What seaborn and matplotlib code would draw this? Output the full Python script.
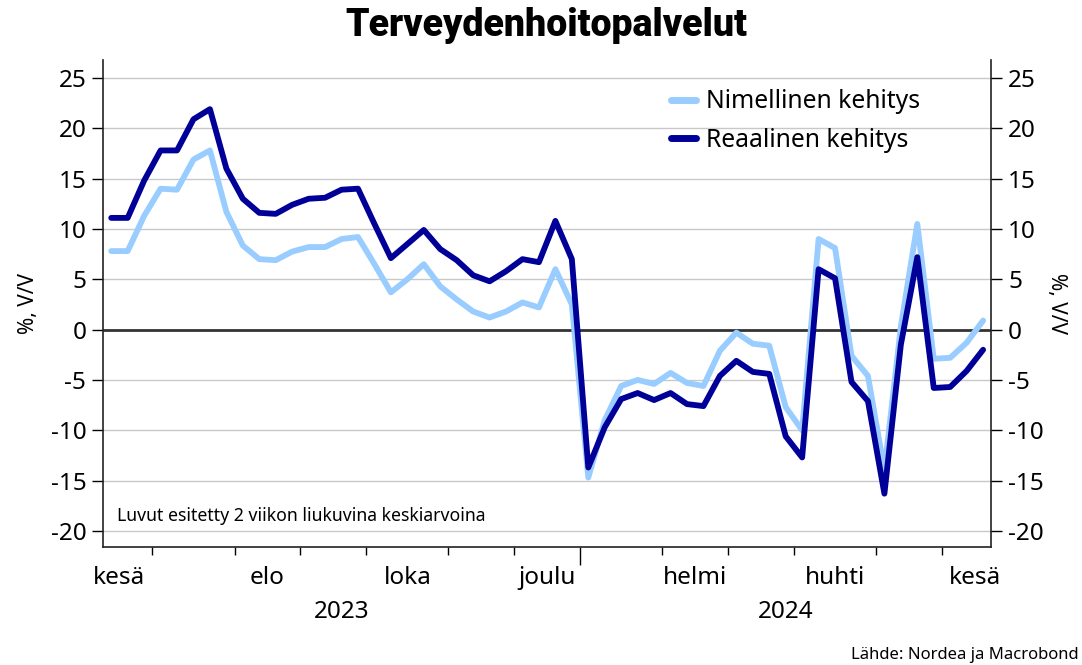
import numpy as np
import pandas as pd
import matplotlib
matplotlib.use("Agg")
import matplotlib.pyplot as plt
import matplotlib.transforms as mtransforms
import seaborn as sns

# weekly data, 2 week moving average (jun 2023 - jun 2024)
nimellinen = [7.8, 7.8, 11.3, 14.0, 13.9, 16.9, 17.8, 11.7, 8.35, 7.0,
              6.9, 7.75, 8.2, 8.2, 9.0, 9.2, 6.5, 3.7, 5.0, 6.5,
              4.3, 3.0, 1.8, 1.2, 1.8, 2.7, 2.2, 6.0, 2.5, -14.7,
              -9.0, -5.6, -5.0, -5.4, -4.3, -5.3, -5.6, -2.1, -0.3, -1.4,
              -1.6, -7.7, -10.0, 9.0, 8.1, -2.6, -4.6, -14.0, 0.3, 10.5,
              -2.9, -2.8, -1.3, 0.9]
reaalinen = [11.1, 11.1, 14.8, 17.8, 17.8, 20.9, 21.9, 16.0, 13.0, 11.6,
             11.5, 12.4, 13.0, 13.1, 13.9, 14.0, 10.5, 7.1, 8.5, 9.9,
             8.0, 6.9, 5.4, 4.8, 5.8, 7.0, 6.7, 10.8, 7.0, -13.7,
             -9.7, -6.9, -6.3, -7.0, -6.3, -7.4, -7.6, -4.6, -3.1, -4.2,
             -4.4, -10.6, -12.7, 6.0, 5.1, -5.2, -7.1, -16.3, -1.5, 7.2,
             -5.8, -5.7, -4.1, -2.0]

# month boundaries (between weeks) and month labels
month_edges = [2.5, 7.5, 11.5, 15.5, 20.5, 24.5, 28.5, 33.5, 37.5, 41.5, 46.5, 50.5]
month_pos = [0.5, 9.5, 18, 26.5, 35.5, 44, 52.5]
month_labels = ["kesä", "elo", "loka", "joulu", "helmi", "huhti", "kesä"]
year_pos = [14, 41]
year_labels = ["2023", "2024"]

series_names = ["Nimellinen kehitys", "Reaalinen kehitys"]
colors = {"Nimellinen kehitys": "#99CCFF", "Reaalinen kehitys": "#000099"}

weeks = np.arange(len(nimellinen))
df = pd.DataFrame({
    "week": np.concatenate([weeks, weeks]),
    "value": nimellinen + reaalinen,
    "series": [series_names[0]] * len(weeks) + [series_names[1]] * len(weeks),
})

sns.set_style("white")
plt.rcParams["font.family"] = ["Noto Sans", "DejaVu Sans"]
plt.rcParams["axes.unicode_minus"] = False
for k in ["text.color", "axes.labelcolor", "xtick.color", "ytick.color"]:
    plt.rcParams[k] = "black"

fig = plt.figure(figsize=(10.82, 6.65), dpi=100)
ax = fig.add_axes([0.0952, 0.1774, 0.821, 0.7326])

# grid
for y in range(-20, 30, 5):
    if y == 0:
        ax.axhline(0, color="#333333", lw=2, zorder=1)
    else:
        ax.axhline(y, color="#c8c8c8", lw=1, zorder=0)

sns.lineplot(data=df, x="week", y="value", hue="series", palette=colors,
             linewidth=4.2, ax=ax, legend=False, zorder=3)

ax.set_xlim(-0.5, 53.5)
ax.set_ylim(-21.6, 26.8)
ax.set_yticks(range(-20, 30, 5))
ax.tick_params(axis="y", labelsize=17.5, length=8, width=1, direction="out", left=True, pad=4)

ax.set_xticks(month_edges)
ax.set_xticklabels([])
ax.tick_params(axis="x", which="major", length=6, width=1, direction="out", bottom=True)
ax.xaxis.get_major_ticks()[6].tick1line.set_markersize(13)
ax.set_xticks(month_pos, minor=True)
ax.set_xticklabels(month_labels, minor=True)
ax.tick_params(axis="x", which="minor", length=0, labelsize=17.5, pad=14)

ax.set_xlabel("")
ax.set_ylabel("%, V/V", fontsize=15, labelpad=8)

for s in ["left", "right", "bottom"]:
    ax.spines[s].set_color("#222222")
    ax.spines[s].set_linewidth(1.2)
ax.spines["top"].set_visible(False)

# right hand axis
ax2 = ax.twinx()
ax2.set_ylim(ax.get_ylim())
ax2.set_yticks(range(-20, 30, 5))
ax2.tick_params(axis="y", labelsize=17.5, length=8, width=1, direction="out", right=True, pad=4)
ax2.set_ylabel("%, V/V", fontsize=15, rotation=270, labelpad=17)
for s in ["left", "right", "bottom", "top"]:
    ax2.spines[s].set_visible(False)

# years under the month labels
trans = mtransforms.blended_transform_factory(ax.transData, fig.transFigure)
for p, lab in zip(year_pos, year_labels):
    ax.text(p, 1 - 612 / 665, lab, transform=trans, ha="center", va="center", fontsize=17.5)

# legend
handles = [plt.Line2D([0], [0], color=colors[n], lw=5) for n in series_names]
ax.legend(handles, series_names, loc="upper right", bbox_to_anchor=(0.945, 0.985),
          frameon=False, fontsize=17.8, handlelength=1.0, handletextpad=0.4,
          labelspacing=0.55)

ax.text(0.016, 0.063, "Luvut esitetty 2 viikon liukuvina keskiarvoina",
        transform=ax.transAxes, fontsize=12.7, ha="left", va="center")

fig.suptitle("Terveydenhoitopalvelut", x=0.505, y=0.99, va="top",
             fontsize=27, fontweight="heavy", family=["Roboto", "DejaVu Sans"])
fig.text(0.997, 0.015, "Lähde: Nordea ja Macrobond", ha="right", va="center", fontsize=12)

fig.savefig("out.png", dpi=100)
